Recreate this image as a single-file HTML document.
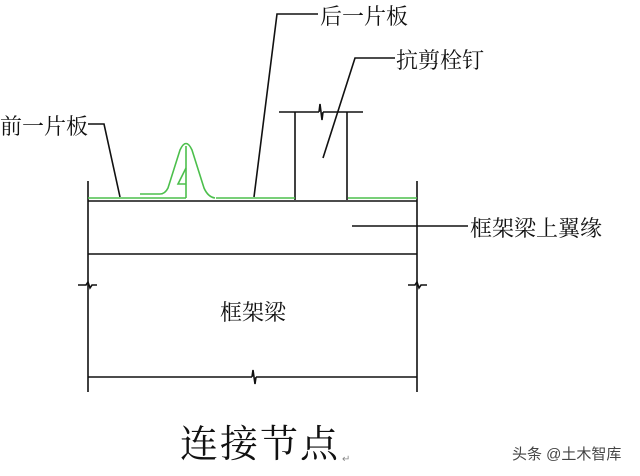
<!DOCTYPE html>
<html><head><meta charset="utf-8"><style>
html,body{margin:0;padding:0;background:#fff;}
body{width:640px;height:476px;overflow:hidden;position:relative;}
svg{position:absolute;left:0;top:0;}
text{font-family:"Liberation Serif","Noto Serif CJK SC","Noto Sans CJK SC",serif;fill:#111;}
</style></head><body>
<svg width="640" height="476" viewBox="0 0 640 476">
<g stroke="#111" stroke-width="1.6" fill="none">
<line x1="88" y1="181" x2="88" y2="392"/>
<line x1="417" y1="181" x2="417" y2="392"/>
<line x1="88" y1="201" x2="417" y2="201"/>
<line x1="88" y1="254" x2="417" y2="254"/>
<line x1="88" y1="377" x2="252" y2="377"/>
<line x1="256" y1="377" x2="417" y2="377"/>
<path d="M252 377 L253 370 L255 384 L256 377"/>
<path d="M78 285 L86 285 L88 282 L90 288 L92 285 L97 285"/>
<path d="M408 285 L415 285 L417 282 L419 288 L421 285 L427 285"/>
<line x1="295" y1="112" x2="295" y2="200"/>
<line x1="347" y1="112" x2="347" y2="200"/>
<line x1="279" y1="112" x2="319" y2="112"/>
<line x1="323" y1="112" x2="363" y2="112"/>
<path d="M319 112 L320 104 L322 120 L323 112"/>
<path d="M88 124 L104 124 L120 197"/>
<path d="M318 14 L277 14 L254 197"/>
<path d="M395 58 L355 58 L323 158"/>
<line x1="352" y1="226" x2="468" y2="226"/>
</g>
<g stroke="#4cbf4c" stroke-width="1.6" fill="none">
<line x1="88" y1="198" x2="186" y2="198"/>
<path d="M140 194 L160 194 Q165 194 168 188 L180 150 Q186 137 192 150 L204 188 Q208 197 215 198"/>
<line x1="186" y1="146" x2="186" y2="198"/>
<path d="M186 168 L178 184 L186 184"/>
<line x1="216" y1="198" x2="295" y2="198"/>
<line x1="348" y1="198" x2="417" y2="198"/>
</g>
<text x="0" y="134" font-size="22">前一片板</text>
<text x="320" y="24" font-size="22">后一片板</text>
<text x="396" y="68" font-size="22">抗剪栓钉</text>
<text x="470" y="236" font-size="22">框架梁上翼缘</text>
<text x="220" y="320" font-size="22">框架梁</text>
<text x="180" y="457" font-size="38" letter-spacing="2">连接节点</text>
<text x="342" y="462" font-size="10" style="fill:#888">↵</text>
<text x="512" y="459" font-size="15" style="fill:#444;font-family:'Liberation Sans','Noto Sans CJK SC',sans-serif">头条 @土木智库</text>
</svg>
</body></html>
